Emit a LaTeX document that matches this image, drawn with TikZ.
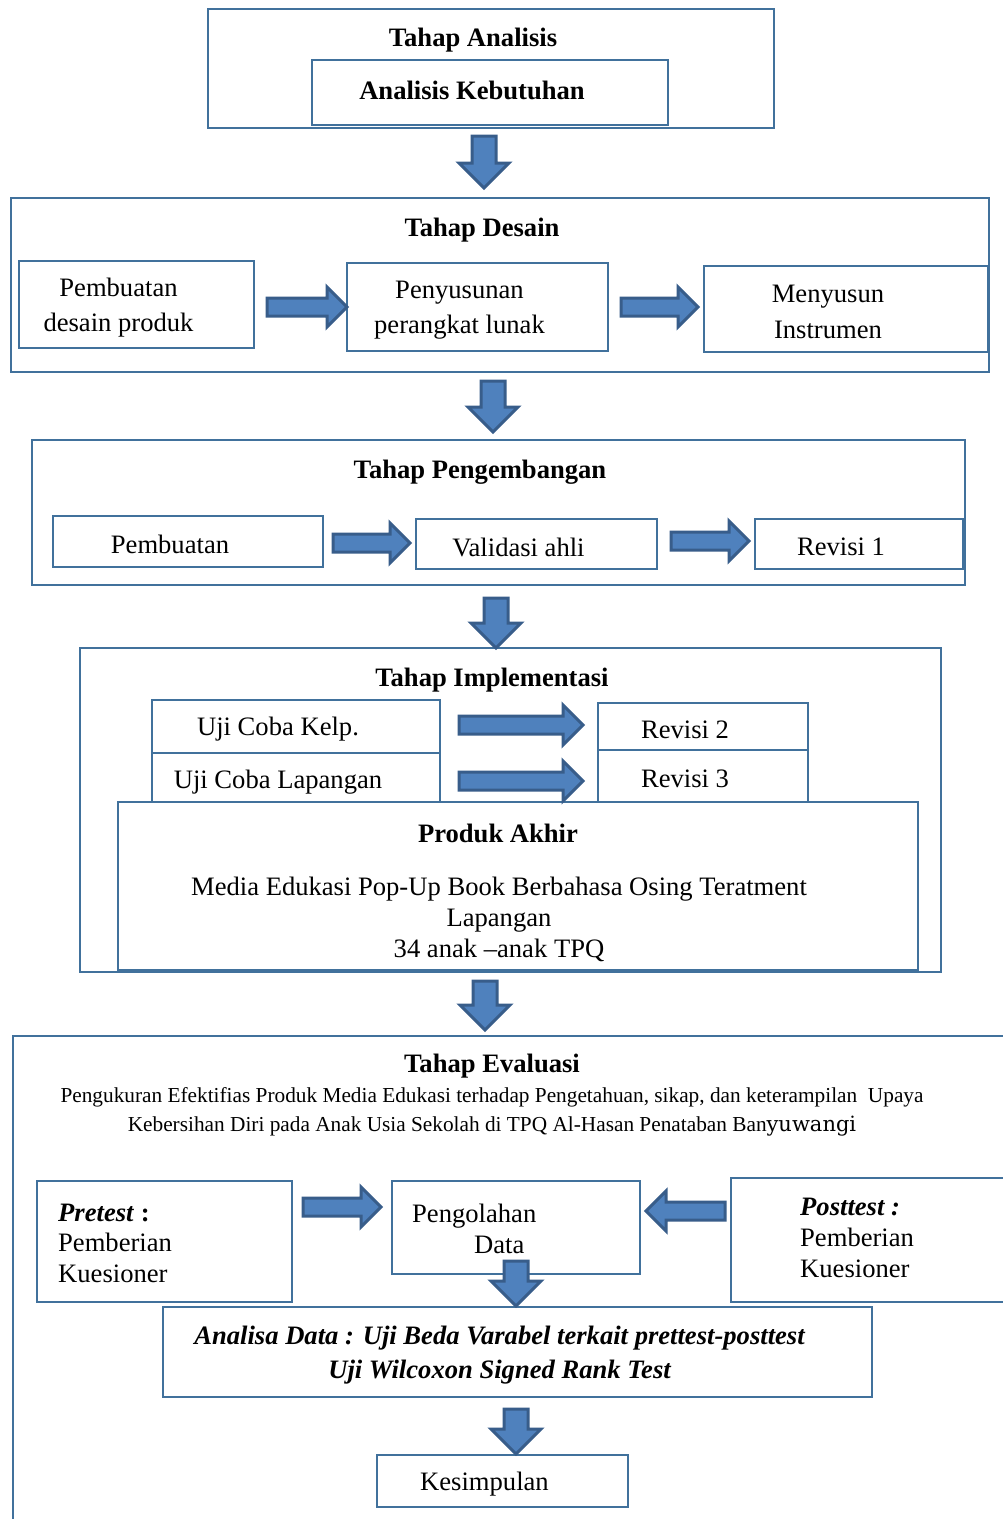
\documentclass[tikz,border=0pt]{standalone}
\usepackage{fontspec}
\setmainfont{Liberation Serif}
\newfontfamily\wangifont{DejaVu Serif}
\usetikzlibrary{shapes.arrows,fit}

\definecolor{boxline}{HTML}{41719C}
\definecolor{arrfill}{HTML}{4F81BD}
\definecolor{arrline}{HTML}{385D8A}

\begin{document}
\begin{tikzpicture}[x=1pt, y=-1pt,
	every node/.style={font=\fontsize{26.6}{31}\selectfont},
	frame/.style={draw=boxline, line width=2pt, fill=white, inner sep=0pt},
	title/.style={font=\fontsize{26.6}{31}\selectfont\bfseries, inner sep=0pt, yshift=-3pt},
	txt/.style={align=center, inner sep=0pt, yshift=-3pt},
	blockarrow/.style={single arrow, draw=arrline, fill=arrfill, line width=3pt, minimum width=0pt, anchor=tail},
	downarrow/.style={blockarrow, shape border rotate=270, inner sep=10.5pt, single arrow head extend=13pt, minimum height=#1},
	rightarrow/.style={blockarrow, inner sep=7.5pt, single arrow head extend=11pt, minimum height=#1},
	leftarrow/.style={rightarrow=#1, shape border rotate=180}]
	\useasboundingbox (0,0) rectangle (1003,1519);
	\clip (0,0) rectangle (1003,1519);

	% Tahap Analisis
	\node[frame, fit={(208,9) (774,128)}] (analisis) {};
	\node[title] (analisis-t) at (473,37) {Tahap Analisis};
	\node[frame, fit={(312,60) (668,125)}] (kebutuhan) {};
	\node[title] (kebutuhan-t) at (472,87) {Analisis Kebutuhan};

	% Tahap Desain
	\node[frame, fit={(11,198) (989,372)}] (desain) {};
	\node[title] (desain-t) at (482,227) {Tahap Desain};
	\node[frame, fit={(19,261) (254,348)}] (rancang) {};
	\node[txt, font=\fontsize{26.6}{35}\selectfont] (rancang-t) at ([xshift=-18pt]rancang.center) {Pembuatan\\desain produk};
	\node[frame, fit={(347,263) (608,351)}] (perangkat) {};
	\node[txt, font=\fontsize{26.6}{35}\selectfont] (perangkat-t) at ([xshift=-18pt]perangkat.center) {Penyusunan\\perangkat lunak};
	\node[frame, fit={(704,266) (988,352)}] (instrumen) {};
	\node[txt, font=\fontsize{26.6}{36}\selectfont] (instrumen-t) at ([xshift=-18pt]instrumen.center) {Menyusun\\Instrumen};

	% Tahap Pengembangan
	\node[frame, fit={(32,440) (965,585)}] (kembang) {};
	\node[title] (kembang-t) at (480,469) {Tahap Pengembangan};
	\node[frame, fit={(53,516) (323,567)}] (pembuatan) {};
	\node[txt] (pembuatan-t) at ([xshift=-18pt]pembuatan.center) {Pembuatan};
	\node[frame, fit={(416,519) (657,569)}] (validasi) {};
	\node[txt] (validasi-t) at ([xshift=-18pt]validasi.center) {Validasi ahli};
	\node[frame, fit={(755,519) (963,569)}] (revisi1) {};
	\node[txt] (revisi1-t) at ([xshift=-18pt]revisi1.center) {Revisi 1};

	% Tahap Implementasi
	\node[frame, fit={(80,648) (941,972)}] (implementasi) {};
	\node[title] (implementasi-t) at (492,677) {Tahap Implementasi};
	\node[frame, fit={(152,700) (440,753)}] (kelp) {};
	\node[txt] (kelp-t) at ([xshift=-18pt]kelp.center) {Uji Coba Kelp.};
	\node[frame, fit={(152,753) (440,802)}] (lapangan) {};
	\node[txt] (lapangan-t) at ([xshift=-18pt,yshift=-2pt]lapangan.center) {Uji Coba Lapangan};
	\node[frame, fit={(598,703) (808,750)}] (revisi2) {};
	\node[txt] (revisi2-t) at ([xshift=-18pt]revisi2.center) {Revisi 2};
	\node[frame, fit={(598,750) (808,802)}] (revisi3) {};
	\node[txt] (revisi3-t) at ([xshift=-18pt]revisi3.center) {Revisi 3};
	\node[frame, fit={(118,802) (918,970)}] (akhir) {};
	\node[title] (akhir-t) at (498,830) {Produk Akhir};
	\node[txt] (akhir-d) at (499,916) {Media Edukasi Pop-Up Book Berbahasa Osing Teratment\\Lapangan\\34 anak –anak TPQ};

	% Tahap Evaluasi
	\node[frame, fit={(13,1036) (1008,1560)}] (evaluasi) {};
	\node[title] (evaluasi-t) at (492,1063) {Tahap Evaluasi};
	\node[txt, font=\fontsize{21.3}{29}\selectfont] (evaluasi-d) at (492,1109) {Pengukuran Efektifias Produk Media Edukasi terhadap Pengetahuan, sikap, dan keterampilan~ Upaya\\Kebersihan Diri pada Anak Usia Sekolah di TPQ Al-Hasan Penataban Ban{\wangifont\fontsize{21}{29}\selectfont yuwangi}};
	\node[frame, fit={(37,1181) (292,1302)}] (pretest) {};
	\node[txt, align=left, font=\fontsize{26.6}{30.5}\selectfont, anchor=west] (pretest-t) at (58,1240) {\textbf{\textit{Pretest} :}\\Pemberian\\Kuesioner};
	\node[frame, fit={(392,1181) (640,1274)}] (olah) {};
	\node[txt, align=left, anchor=west] (olah-t) at (412,1226) {Pengolahan\\\hspace*{62pt}Data};
	\node[frame, fit={(731,1178) (1020,1302)}] (posttest) {};
	\node[txt, align=left, anchor=west] (posttest-t) at (800,1235) {\textbf{\textit{Posttest :}}\\Pemberian\\Kuesioner};
	\node[frame, fit={(163,1307) (872,1397)}] (analisa) {};
	\node[txt, font=\fontsize{26.6}{34}\selectfont\bfseries\itshape] (analisa-t) at ([xshift=-18pt]analisa.center) {Analisa Data : Uji Beda Varabel terkait prettest-posttest\\Uji Wilcoxon Signed Rank Test};
	\node[frame, fit={(377,1455) (628,1507)}] (kesimpulan) {};
	\node[txt] (kesimpulan-t) at ([xshift=-18pt]kesimpulan.center) {Kesimpulan};

	% panah blok
	\node[downarrow=52pt] (a1) at (484,134.5) {};
	\node[downarrow=51pt] (a2) at (493,379.5) {};
	\node[downarrow=50pt] (a3) at (496,596.5) {};
	\node[downarrow=49pt] (a4) at (485,979.5) {};
	\node[downarrow=45pt] (a5) at (516,1259.5) {};
	\node[downarrow=45pt] (a6) at (516,1407.5) {};
	\node[rightarrow=80pt] (b1) at (265.5,307) {};
	\node[rightarrow=77pt] (b2) at (619.5,307) {};
	\node[rightarrow=77pt] (b3) at (331.5,543) {};
	\node[rightarrow=78pt] (b4) at (669.5,541) {};
	\node[rightarrow=124pt] (b5) at (457.5,725) {};
	\node[rightarrow=124pt] (b6) at (457.5,781) {};
	\node[rightarrow=78pt] (b7) at (301.5,1207) {};
	\node[leftarrow=79pt] (b8) at (726.5,1211) {};
\end{tikzpicture}
\end{document}
